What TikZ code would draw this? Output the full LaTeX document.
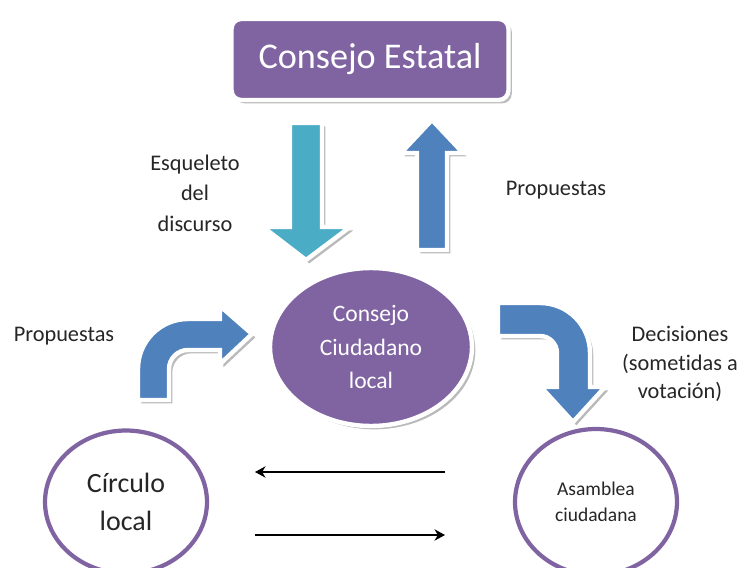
\documentclass[tikz,border=0pt]{standalone}
\usepackage{fontspec}
\setmainfont{Carlito}[Ligatures=NoCommon]
\usetikzlibrary{arrows.meta,shapes.geometric,shadows}

\definecolor{lila}{HTML}{8064A2}
\definecolor{turquesa}{HTML}{4BACC6}
\definecolor{azul}{HTML}{4F81BD}
\definecolor{texto}{HTML}{262626}

\tikzset{
  bloque/.style={draw=white,line width=2.5pt,
    drop shadow={shadow xshift=1.9pt,shadow yshift=-1.9pt,fill=black!45,opacity=.6}},
  circulo/.style={ellipse,draw=lila,line width=2.4pt,fill=white,align=center,text=texto},
  etiqueta/.style={text=texto,align=center,font=\fontsize{12.7}{17.3}\selectfont},
}

\begin{document}
\begin{tikzpicture}[x=0.02cm,y=-0.02cm]
\useasboundingbox (0,0) rectangle (741,568);

\begin{scope}[every node/.style={inner sep=0pt}]
    \node[bloque,fill=lila,rounded corners=5.5pt,minimum width=5.54cm,minimum height=1.62cm,
          text=white,font=\fontsize{20.6}{24}\selectfont] (estatal) at (370,59.5) {Consejo Estatal};
    \node[bloque,ellipse,fill=lila,minimum width=4.04cm,minimum height=3.16cm,text=white,
          align=center,font=\fontsize{13.4}{19.3}\selectfont] (ciudadano) at (371,347) {Consejo\\Ciudadano\\local};
    \node[circulo,minimum width=3.24cm,minimum height=2.86cm,
          font=\fontsize{15.9}{21.5}\selectfont] (circulo) at (126,502) {Círculo\\local};
    \node[circulo,minimum width=3.24cm,minimum height=2.92cm,
          font=\fontsize{11.1}{15}\selectfont] (asamblea) at (596,502) {Asamblea\\ciudadana};
\end{scope}

% flechas de bloque
\path[bloque,fill=turquesa] (290,123) -- (322,123) -- (322,227) -- (350,227) -- (306,260)
    -- (263,227) -- (290,227) -- cycle;
\path[bloque,fill=azul] (417,250) -- (417,153) -- (401,153) -- (432,120) -- (463,153)
    -- (447,153) -- (447,250) -- cycle;
\path[bloque,fill=azul] (138,400) -- (138,369) arc[start angle=180,end angle=270,radius=50]
    -- (220,319) -- (220,306) -- (252,334) -- (220,364) -- (220,350) -- (188,350)
    arc[start angle=270,end angle=180,radius=19] -- (169,400) -- cycle;
\path[bloque,fill=azul] (498,303) -- (540,303) arc[start angle=270,end angle=360,radius=50]
    -- (590,387) -- (605,387) -- (573,422) -- (541,387) -- (557,387) -- (557,353)
    arc[start angle=0,end angle=-90,radius=17] -- (498,336) -- cycle;

% textos
\node[etiqueta] (esqueleto) at (195,193) {Esqueleto\\del\\discurso};
\node[etiqueta] (propuestasA) at (556,190) {Propuestas};
\node[etiqueta] (propuestasB) at (64,336) {Propuestas};
\node[etiqueta,font=\fontsize{12.7}{16.4}\selectfont] (decisiones) at (680,364) {Decisiones\\(sometidas a\\votación)};

% flechas finas
\coordinate (vueltaA) at (445,472);
\coordinate (vueltaB) at (255,472);
\coordinate (idaA) at (255,535);
\coordinate (idaB) at (445,535);
\begin{scope}[>={Stealth[length=6pt,width=6.5pt]},line width=0.75pt]
    \draw[->] (vueltaA) -- (vueltaB);
    \draw[->] (idaA) -- (idaB);
\end{scope}
\end{tikzpicture}
\end{document}
